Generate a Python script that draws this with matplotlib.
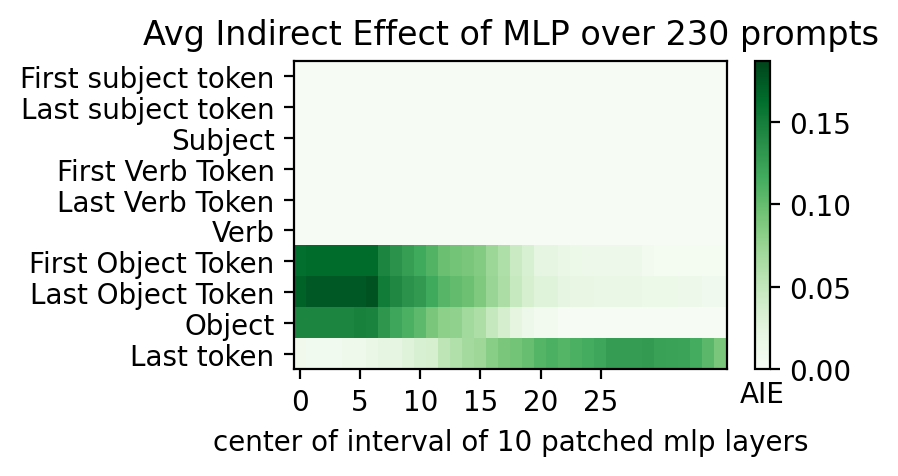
import numpy as np
import matplotlib
matplotlib.use("Agg")
import matplotlib.pyplot as plt

labels = ["First subject token", "Last subject token", "Subject",
          "First Verb Token", "Last Verb Token", "Verb",
          "First Object Token", "Last Object Token", "Object", "Last token"]

n_layers = 36
flat = [0.002] * n_layers

first_obj = [0.162, 0.164, 0.164, 0.164, 0.164, 0.164, 0.164, 0.145, 0.135, 0.126,
             0.118, 0.109, 0.098, 0.094, 0.090, 0.086, 0.073, 0.062, 0.045, 0.034,
             0.023, 0.022, 0.017, 0.015, 0.012, 0.012, 0.012, 0.012, 0.012, 0.007,
             0.005, 0.005, 0.005, 0.005, 0.005, 0.005]
last_obj = [0.170, 0.175, 0.175, 0.175, 0.175, 0.175, 0.178, 0.152, 0.143, 0.135,
            0.129, 0.118, 0.107, 0.101, 0.097, 0.088, 0.074, 0.064, 0.047, 0.036,
            0.028, 0.028, 0.023, 0.020, 0.020, 0.017, 0.017, 0.017, 0.017, 0.015,
            0.015, 0.015, 0.012, 0.012, 0.009, 0.009]
obj = [0.145, 0.145, 0.145, 0.145, 0.145, 0.147, 0.146, 0.132, 0.120, 0.112,
       0.104, 0.090, 0.081, 0.079, 0.070, 0.063, 0.048, 0.037, 0.024, 0.013,
       0.007, 0.007, 0.001, 0.001, 0.001, 0.001, 0.001, 0.001, 0.001, 0.001,
       0.001, 0.001, 0.001, 0.001, 0.001, 0.001]
last_tok = [0.010, 0.008, 0.008, 0.008, 0.011, 0.011, 0.017, 0.022, 0.022, 0.028,
            0.034, 0.036, 0.053, 0.060, 0.068, 0.072, 0.083, 0.090, 0.094, 0.099,
            0.108, 0.112, 0.108, 0.112, 0.116, 0.120, 0.127, 0.127, 0.127, 0.128,
            0.124, 0.123, 0.122, 0.116, 0.105, 0.090]

scores = np.array([flat] * 6 + [first_obj, last_obj, obj, last_tok])
vmax = 0.187

fig = plt.figure(figsize=(4.49, 2.385), dpi=200)
ax = fig.add_axes([0.3274, 0.2243, 0.4822, 0.6457])
h = ax.pcolor(scores, cmap="Greens", vmin=0, vmax=vmax)
ax.invert_yaxis()
ax.set_yticks([0.5 + i for i in range(len(labels))])
ax.set_yticklabels(labels)
xt = list(range(0, n_layers - 6, 5))
ax.set_xticks([0.5 + i for i in xt])
ax.set_xticklabels(xt)
ax.set_title("Avg Indirect Effect of MLP over 230 prompts")
ax.set_xlabel("center of interval of 10 patched mlp layers")

cax = fig.add_axes([0.8408, 0.2243, 0.0167, 0.6457])
cb = fig.colorbar(h, cax=cax)
cb.ax.set_xlabel("AIE", labelpad=4)

fig.savefig("out.png", dpi=200)
